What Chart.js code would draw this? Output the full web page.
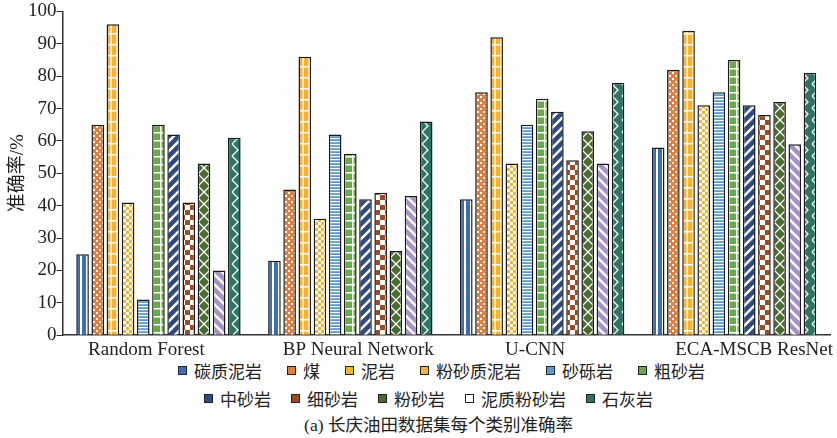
<!DOCTYPE html>
<html>
<head>
<meta charset="utf-8">
<script src="https://cdn.jsdelivr.net/npm/chart.js@4.4.1/dist/chart.umd.min.js"></script>
<style>
  html, body { margin: 0; padding: 0; background: #fff; }
  #wrap { width: 837px; height: 438px; position: relative; font-family: "Liberation Serif", "Noto Sans CJK SC", serif; color: #222; }
  #chart { position: absolute; left: 0; top: 0; }
  #legend { position: absolute; left: 0; top: 356px; width: 837px; }
  .row { display: flex; justify-content: center; height: 28px; align-items: center; font-size: 17px; }
  .r0 { gap: 25px; padding-left: 46px; }
  .r1 { gap: 20px; padding-left: 20px; }
  .item { display: flex; align-items: center; white-space: nowrap; }
  .box { width: 7px; height: 7px; border: 1px solid #222; margin-right: 7px; }
  #caption { position: absolute; left: 40px; top: 411px; width: 797px; text-align: center; font-size: 17.5px; }
</style>
</head>
<body>
<div id="wrap">
  <canvas id="chart" width="837" height="356"></canvas>
  <div id="legend"></div>
  <div id="caption">(a) 长庆油田数据集每个类别准确率</div>
</div>
<script>
const models = ["Random Forest", "BP Neural Network", "U-CNN", "ECA-MSCB ResNet"];
const rocks = ["碳质泥岩", "煤", "泥岩", "粉砂质泥岩", "砂砾岩", "粗砂岩", "中砂岩", "细砂岩", "粉砂岩", "泥质粉砂岩", "石灰岩"];

// accuracy (%) per rock type, one value per model
const carbonMudstone = [25, 23, 42, 58];
const coal = [65, 45, 75, 82];
const mudstone = [96, 86, 92, 94];
const siltyMudstone = [41, 36, 53, 71];
const glutenite = [11, 62, 65, 75];
const coarseSandstone = [65, 56, 73, 85];
const mediumSandstone = [62, 42, 69, 71];
const fineSandstone = [41, 44, 54, 68];
const siltstone = [53, 26, 63, 72];
const muddySiltstone = [20, 43, 53, 59];
const limestone = [61, 66, 78, 81];

const yTicks = [0, 10, 20, 30, 40, 50, 60, 70, 80, 90, 100];

const seriesValues = [carbonMudstone, coal, mudstone, siltyMudstone, glutenite, coarseSandstone,
  mediumSandstone, fineSandstone, siltstone, muddySiltstone, limestone];

const colors = ["#3c6eb4", "#e57b3c", "#f4b433", "#f4b433", "#5a9bd3", "#6aa84f",
  "#2e4a84", "#9a4b27", "#4a6b30", "#a391c9", "#2d7467"];
const legendColors = colors.slice();
legendColors[9] = "#ffffff";

// the category labels in the original are not centred under their groups
const labelShift = [-12, 8, -7, 20];

function tile(w, h, bg, draw) {
  const c = document.createElement("canvas");
  c.width = w; c.height = h;
  const g = c.getContext("2d");
  g.fillStyle = bg;
  g.fillRect(0, 0, w, h);
  g.fillStyle = "#fff";
  g.strokeStyle = "#fff";
  draw(g);
  return g.createPattern(c, "repeat");
}

const patterns = [
  tile(6, 6, colors[0], g => g.fillRect(2, 0, 2, 6)),
  tile(6, 6, colors[1], g => { g.fillRect(0, 0, 2, 2); g.fillRect(3, 3, 2, 2); }),
  tile(6, 11, colors[2], g => { g.fillRect(2.5, 0, 1.5, 11); g.fillRect(0, 0, 6, 1.5); }),
  tile(6, 6, colors[3], g => { g.fillRect(0, 0, 3, 3); g.fillRect(3, 3, 3, 3); }),
  tile(4, 3, colors[4], g => g.fillRect(0, 0, 4, 1.2)),
  tile(8, 8, colors[5], g => { g.fillRect(0, 0, 1.5, 8); g.fillRect(0, 4, 8, 1.5); }),
  tile(10, 10, colors[6], g => {
    g.lineWidth = 2.5;
    g.beginPath(); g.moveTo(0, 10); g.lineTo(10, 0);
    g.moveTo(-5, 5); g.lineTo(5, -5); g.moveTo(5, 15); g.lineTo(15, 5); g.stroke();
  }),
  tile(10, 10, colors[7], g => { g.fillRect(0, 0, 5, 5); g.fillRect(5, 5, 5, 5); }),
  tile(12, 12, colors[8], g => {
    g.lineWidth = 1.3;
    g.beginPath(); g.moveTo(0, 0); g.lineTo(6, 6); g.lineTo(0, 12);
    g.moveTo(12, 0); g.lineTo(6, 6); g.lineTo(12, 12); g.stroke();
  }),
  tile(10, 10, colors[9], g => {
    g.lineWidth = 2.5;
    g.beginPath(); g.moveTo(0, 0); g.lineTo(10, 10);
    g.moveTo(-5, 5); g.lineTo(5, 15); g.moveTo(5, -5); g.lineTo(15, 5); g.stroke();
  }),
  tile(10, 12, colors[10], g => {
    g.lineWidth = 1.3;
    g.beginPath(); g.moveTo(2, 0); g.lineTo(8, 6); g.lineTo(2, 12); g.stroke();
  })
];

const datasets = rocks.map((name, i) => ({
  label: name,
  data: seriesValues[i],
  backgroundColor: patterns[i],
  borderColor: "#1a1a1a",
  borderWidth: 1.5,
  categoryPercentage: 0.87,
  barPercentage: 0.83
}));

const serif = "'Liberation Serif', 'Noto Sans CJK SC', serif";

const shiftLabels = {
  id: "shiftLabels",
  beforeDraw(chart) {
    chart.scales.x.getLabelItems().forEach((item, i) => {
      item.options.translation[0] += labelShift[i] || 0;
    });
  }
};

new Chart(document.getElementById("chart"), {
  type: "bar",
  data: { labels: models, datasets },
  plugins: [shiftLabels],
  options: {
    responsive: false,
    animation: false,
    layout: { padding: { top: 11, right: 7, left: 0 } },
    plugins: { legend: { display: false }, tooltip: { enabled: false } },
    scales: {
      x: {
        grid: { display: false },
        border: { display: true, color: "#333", width: 1.5 },
        ticks: { color: "#222", font: { family: serif, size: 19 }, padding: -5 }
      },
      y: {
        min: 0,
        max: 100,
        afterBuildTicks: axis => { axis.ticks = yTicks.map(v => ({ value: v })); },
        grid: { drawOnChartArea: false, drawTicks: true, tickLength: 6, color: "#333", width: 1.5 },
        border: { display: true, color: "#333", width: 1.5 },
        ticks: { color: "#222", font: { family: serif, size: 19 }, padding: 0 },
        title: { display: true, text: "准确率/%", color: "#222", font: { family: serif, size: 19, lineHeight: 1 }, padding: { top: 9, bottom: 0 } }
      }
    }
  }
});

const legend = document.getElementById("legend");
[rocks.slice(0, 6), rocks.slice(6)].forEach((rowNames, r) => {
  const row = document.createElement("div");
  row.className = "row r" + r;
  rowNames.forEach((name, j) => {
    const i = r * 6 + j;
    const item = document.createElement("div");
    item.className = "item";
    item.innerHTML = `<span class="box" style="background:${legendColors[i]}"></span>${name}`;
    row.appendChild(item);
  });
  legend.appendChild(row);
});
</script>
</body>
</html>
